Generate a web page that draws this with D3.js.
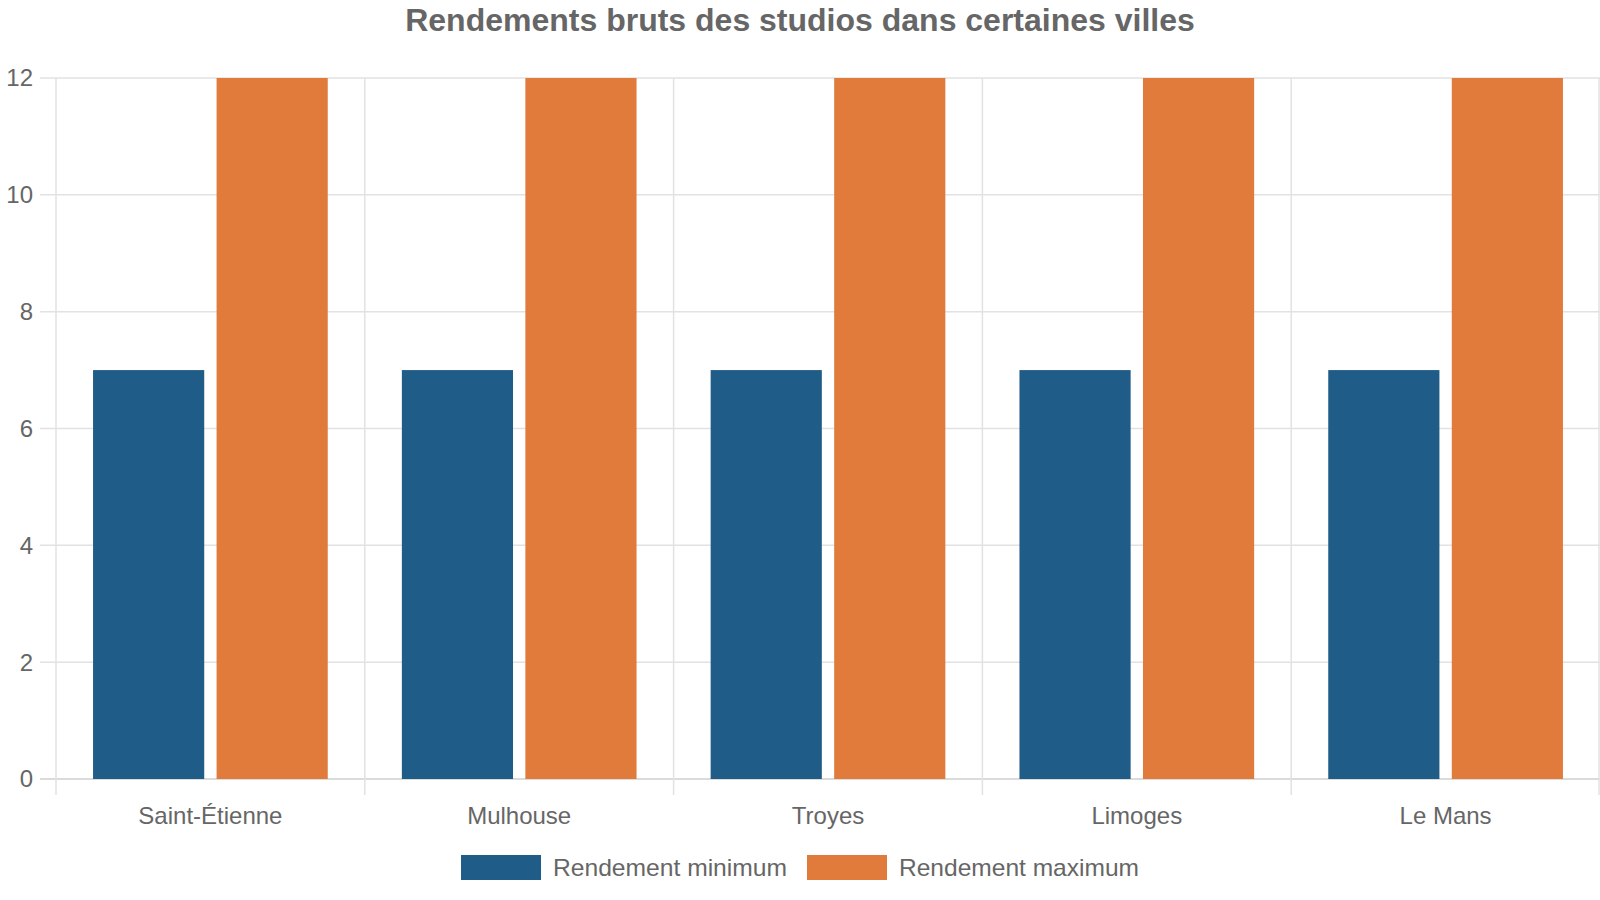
<!DOCTYPE html>
<html><head><meta charset="utf-8">
<script src="https://cdn.jsdelivr.net/npm/d3@7"></script>
<style>body{margin:0;background:#fff;} svg{display:block;font-family:"Liberation Sans",Arial,sans-serif;}</style>
</head><body>
<svg id="c" width="1600" height="900"></svg>
<script>
const categories = ["Saint-Étienne","Mulhouse","Troyes","Limoges","Le Mans"];
const seriesNames = ["Rendement minimum","Rendement maximum"];
const minValues = [7,7,7,7,7];
const maxValues = [12,12,12,12,12];
const yTicks = [0,2,4,6,8,10,12];
const colors = ["#1f5c87","#e07b3b"];
const title = "Rendements bruts des studios dans certaines villes";

const svg = d3.select("#c");
const m = {l:56, r:0, t:78, b:121};
const W = 1600, H = 900;
const x = d3.scaleBand().domain(categories).range([m.l, W - m.r]);
const y = d3.scaleLinear().domain([0,12]).range([H - m.b, m.t]);
const inner = d3.scaleBand().domain(seriesNames).range([x.bandwidth()*0.1, x.bandwidth()*0.9]);

const g = svg.append("g");
g.selectAll("line.h").data(yTicks).join("line")
  .attr("x1", 40).attr("x2", W).attr("y1", d=>y(d)).attr("y2", d=>y(d))
  .attr("stroke", d=> d===0 ? "#cfcfcf" : "#e2e2e2").attr("stroke-width", 1.5);
const vx = categories.map(c=>x(c)).concat([W-1]);
g.selectAll("line.v").data(vx).join("line")
  .attr("x1", d=>d).attr("x2", d=>d).attr("y1", m.t).attr("y2", y(0)+16)
  .attr("stroke", "#e2e2e2").attr("stroke-width", 1.5);

svg.append("g").selectAll("text").data(yTicks).join("text")
  .attr("x", 33).attr("y", d=>y(d)).attr("dy","0.35em").attr("text-anchor","end")
  .attr("font-size", 24).attr("fill","#666").text(d=>d);

const data = categories.map((c,i)=>({c, vals:[minValues[i], maxValues[i]]}));
const groups = svg.append("g").selectAll("g").data(data).join("g")
  .attr("transform", d=>`translate(${x(d.c)},0)`);
groups.selectAll("rect").data(d=>d.vals.map((v,j)=>({v,j}))).join("rect")
  .attr("x", d=> inner(seriesNames[d.j]) + inner.bandwidth()*0.05)
  .attr("width", inner.bandwidth()*0.9)
  .attr("y", d=>y(d.v)).attr("height", d=>y(0)-y(d.v))
  .attr("fill", d=>colors[d.j]);

svg.append("g").selectAll("text").data(categories).join("text")
  .attr("x", d=>x(d)+x.bandwidth()/2).attr("y", 824).attr("text-anchor","middle")
  .attr("font-size", 24).attr("fill","#666").text(d=>d);

svg.append("text").attr("x", 800).attr("y", 31).attr("text-anchor","middle")
  .attr("font-size", 32).attr("font-weight","bold").attr("fill","#666").text(title);

const lg = svg.append("g");
const legX = [461, 807];
const legW = [234, 240];
seriesNames.forEach((s,i)=>{
  lg.append("rect").attr("x", legX[i]).attr("y", 855).attr("width", 80).attr("height", 25).attr("fill", colors[i]);
  lg.append("text").attr("x", legX[i]+92).attr("y", 876).attr("font-size", 24).attr("fill","#666")
    .attr("textLength", legW[i]).attr("lengthAdjust","spacingAndGlyphs").text(s);
});
</script>
</body></html>
